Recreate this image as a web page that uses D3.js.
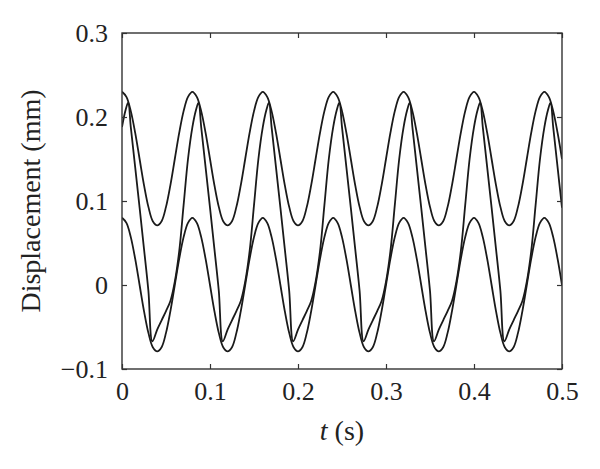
<!DOCTYPE html>
<html>
<head>
<meta charset="utf-8">
<script src="https://cdn.jsdelivr.net/npm/d3@7"></script>
<style>
  body { margin: 0; background: #fff; }
  svg text { font-family: "Liberation Serif", "Times New Roman", serif; fill: #222; }
  .axis .domain { display: none; }
  .axis line { stroke: #333; stroke-width: 1.2; }
</style>
</head>
<body>
<div class="chart"></div>
<script>
"use strict";

var width = 600;
var height = 469;
var margin = { "top": 33, "right": 38, "bottom": 100, "left": 122 };
var plotW = width - margin.left - margin.right;
var plotH = height - margin.top - margin.bottom;

// time samples shared by the two sinusoidal traces (s)
var timeAB = [
  0, 0.005, 0.01, 0.015, 0.02, 0.025, 0.03, 0.035, 0.04, 0.045, 0.05, 0.055, 0.06, 0.065, 0.07, 0.075,
  0.08, 0.085, 0.09, 0.095, 0.1, 0.105, 0.11, 0.115, 0.12, 0.125, 0.13, 0.135, 0.14, 0.145, 0.15, 0.155,
  0.16, 0.165, 0.17, 0.175, 0.18, 0.185, 0.19, 0.195, 0.2, 0.205, 0.21, 0.215, 0.22, 0.225, 0.23, 0.235,
  0.24, 0.245, 0.25, 0.255, 0.26, 0.265, 0.27, 0.275, 0.28, 0.285, 0.29, 0.295, 0.3, 0.305, 0.31, 0.315,
  0.32, 0.325, 0.33, 0.335, 0.34, 0.345, 0.35, 0.355, 0.36, 0.365, 0.37, 0.375, 0.38, 0.385, 0.39, 0.395,
  0.4, 0.405, 0.41, 0.415, 0.42, 0.425, 0.43, 0.435, 0.44, 0.445, 0.45, 0.455, 0.46, 0.465, 0.47, 0.475,
  0.48, 0.485, 0.49, 0.495, 0.5
];

// upper trace (mm)
var upperTrace = [
  0.230, 0.224, 0.207, 0.181, 0.150, 0.119, 0.093, 0.076, 0.071, 0.076, 0.093, 0.119, 0.150, 0.181, 0.207, 0.224,
  0.230, 0.224, 0.207, 0.181, 0.150, 0.119, 0.093, 0.076, 0.071, 0.076, 0.093, 0.119, 0.150, 0.181, 0.207, 0.224,
  0.230, 0.224, 0.207, 0.181, 0.150, 0.119, 0.093, 0.076, 0.071, 0.076, 0.093, 0.119, 0.150, 0.181, 0.207, 0.224,
  0.230, 0.224, 0.207, 0.181, 0.150, 0.119, 0.093, 0.076, 0.071, 0.076, 0.093, 0.119, 0.150, 0.181, 0.207, 0.224,
  0.230, 0.224, 0.207, 0.181, 0.150, 0.119, 0.093, 0.076, 0.071, 0.076, 0.093, 0.119, 0.150, 0.181, 0.207, 0.224,
  0.230, 0.224, 0.207, 0.181, 0.150, 0.119, 0.093, 0.076, 0.071, 0.076, 0.093, 0.119, 0.150, 0.181, 0.207, 0.224,
  0.230, 0.224, 0.207, 0.181, 0.150
];

// lower trace (mm)
var lowerTrace = [
  0.080, 0.074, 0.057, 0.031, 0.000, -0.031, -0.057, -0.074, -0.079, -0.074, -0.057, -0.031, 0.000, 0.031, 0.057, 0.074,
  0.080, 0.074, 0.057, 0.031, 0.000, -0.031, -0.057, -0.074, -0.079, -0.074, -0.057, -0.031, 0.000, 0.031, 0.057, 0.074,
  0.080, 0.074, 0.057, 0.031, 0.000, -0.031, -0.057, -0.074, -0.079, -0.074, -0.057, -0.031, 0.000, 0.031, 0.057, 0.074,
  0.080, 0.074, 0.057, 0.031, 0.000, -0.031, -0.057, -0.074, -0.079, -0.074, -0.057, -0.031, 0.000, 0.031, 0.057, 0.074,
  0.080, 0.074, 0.057, 0.031, 0.000, -0.031, -0.057, -0.074, -0.079, -0.074, -0.057, -0.031, 0.000, 0.031, 0.057, 0.074,
  0.080, 0.074, 0.057, 0.031, 0.000, -0.031, -0.057, -0.074, -0.079, -0.074, -0.057, -0.031, 0.000, 0.031, 0.057, 0.074,
  0.080, 0.074, 0.057, 0.031, 0.000
];

// time samples of the distorted trace (s)
var timeC = [
  0, 0.004, 0.007, 0.010, 0.015, 0.020, 0.025, 0.030, 0.0345, 0.040, 0.045, 0.050, 0.055, 0.060, 0.065, 0.070, 0.075,
  0.080, 0.084, 0.087, 0.090, 0.095, 0.100, 0.105, 0.110, 0.1145, 0.120, 0.125, 0.130, 0.135, 0.140, 0.145, 0.150, 0.155,
  0.160, 0.164, 0.167, 0.170, 0.175, 0.180, 0.185, 0.190, 0.1945, 0.200, 0.205, 0.210, 0.215, 0.220, 0.225, 0.230, 0.235,
  0.240, 0.244, 0.247, 0.250, 0.255, 0.260, 0.265, 0.270, 0.2745, 0.280, 0.285, 0.290, 0.295, 0.300, 0.305, 0.310, 0.315,
  0.320, 0.324, 0.327, 0.330, 0.335, 0.340, 0.345, 0.350, 0.3545, 0.360, 0.365, 0.370, 0.375, 0.380, 0.385, 0.390, 0.395,
  0.400, 0.404, 0.407, 0.410, 0.415, 0.420, 0.425, 0.430, 0.4345, 0.440, 0.445, 0.450, 0.455, 0.460, 0.465, 0.470, 0.475,
  0.480, 0.484, 0.487, 0.490, 0.495, 0.500
];

// distorted trace (mm)
var distortedTrace = [
  0.188, 0.208, 0.217, 0.188, 0.140, 0.092, 0.043, -0.007, -0.067, -0.053, -0.042, -0.031, -0.019, 0.004, 0.040, 0.095, 0.150,
  0.188, 0.208, 0.217, 0.188, 0.140, 0.092, 0.043, -0.007, -0.067, -0.053, -0.042, -0.031, -0.019, 0.004, 0.040, 0.095, 0.150,
  0.188, 0.208, 0.217, 0.188, 0.140, 0.092, 0.043, -0.007, -0.067, -0.053, -0.042, -0.031, -0.019, 0.004, 0.040, 0.095, 0.150,
  0.188, 0.208, 0.217, 0.188, 0.140, 0.092, 0.043, -0.007, -0.067, -0.053, -0.042, -0.031, -0.019, 0.004, 0.040, 0.095, 0.150,
  0.188, 0.208, 0.217, 0.188, 0.140, 0.092, 0.043, -0.007, -0.067, -0.053, -0.042, -0.031, -0.019, 0.004, 0.040, 0.095, 0.150,
  0.188, 0.208, 0.217, 0.188, 0.140, 0.092, 0.043, -0.007, -0.067, -0.053, -0.042, -0.031, -0.019, 0.004, 0.040, 0.095, 0.150,
  0.188, 0.208, 0.217, 0.188, 0.140, 0.092
];

var xTicks = [0, 0.1, 0.2, 0.3, 0.4, 0.5];
var yTicks = [-0.1, 0, 0.1, 0.2, 0.3];

var x = d3.scaleLinear().domain([0, 0.5]).range([0, plotW]);
var y = d3.scaleLinear().domain([-0.1, 0.3]).range([plotH, 0]);

function fmt(d) {
  return d === 0 ? "0" : d3.format(".1f")(d);
}

var svg = d3.select(".chart").append("svg").attr("width", width).attr("height", height);
var canvas = svg.append("g").attr("transform", "translate(" + margin.left + "," + margin.top + ")");

canvas.append("clipPath").attr("id", "plotClip")
  .append("rect").attr("width", plotW).attr("height", plotH);

var series = [
  { t: timeAB, v: upperTrace },
  { t: timeAB, v: lowerTrace },
  { t: timeC, v: distortedTrace }
];

var line = d3.line()
  .x(function (d) { return x(d[0]); })
  .y(function (d) { return y(d[1]); })
  .curve(d3.curveCatmullRom.alpha(0.5));

canvas.append("g").attr("clip-path", "url(#plotClip)")
  .selectAll("path").data(series).enter().append("path")
  .attr("d", function (s) { return line(d3.zip(s.t, s.v)); })
  .attr("fill", "none")
  .attr("stroke", "#1a1a1a")
  .attr("stroke-width", 1.8);

// axes, ticks pointing inwards on all four sides
canvas.append("g").attr("class", "axis")
  .attr("transform", "translate(0," + plotH + ")")
  .call(d3.axisBottom(x).tickValues(xTicks).tickFormat(fmt).tickSize(-5).tickPadding(13));
canvas.append("g").attr("class", "axis")
  .call(d3.axisTop(x).tickValues(xTicks).tickFormat("").tickSize(-5));
canvas.append("g").attr("class", "axis")
  .call(d3.axisLeft(y).tickValues(yTicks).tickFormat(fmt).tickSize(-5).tickPadding(14));
canvas.append("g").attr("class", "axis")
  .attr("transform", "translate(" + plotW + ",0)")
  .call(d3.axisRight(y).tickValues(yTicks).tickFormat("").tickSize(-5));

svg.selectAll(".axis text").style("font-size", "26px").attr("fill", "#222");

canvas.append("rect")
  .attr("width", plotW).attr("height", plotH)
  .attr("fill", "none").attr("stroke", "#333").attr("stroke-width", 1.4);

var xTitle = svg.append("text")
  .attr("x", margin.left + plotW / 2).attr("y", 440)
  .attr("text-anchor", "middle").style("font-size", "28px");
xTitle.append("tspan").style("font-style", "italic").text("t");
xTitle.append("tspan").text(" (s)");

svg.append("text")
  .attr("transform", "translate(40," + (margin.top + plotH / 2) + ") rotate(-90)")
  .attr("text-anchor", "middle").style("font-size", "28px")
  .text("Displacement (mm)");
</script>
</body>
</html>
